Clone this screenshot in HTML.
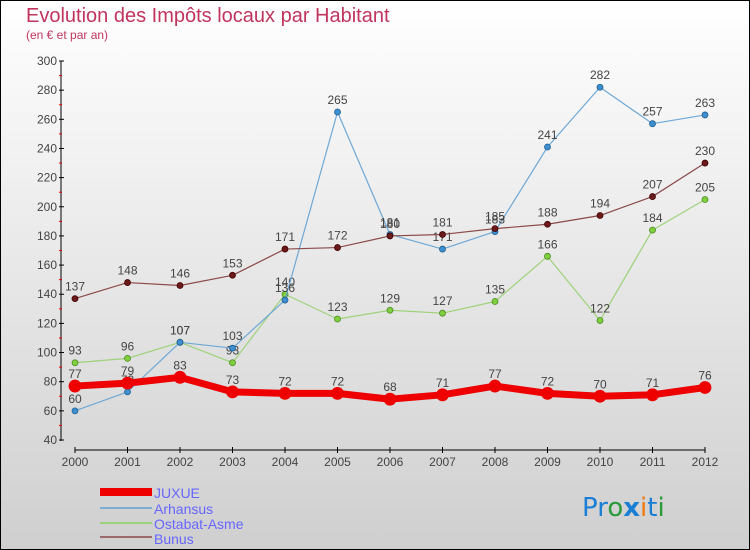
<!DOCTYPE html>
<html><head><meta charset="utf-8"><style>
body{margin:0;width:750px;height:550px;overflow:hidden;font-family:"Liberation Sans",sans-serif}
svg{display:block}
</style></head><body>
<svg id="c" width="750" height="550">
<defs><linearGradient id="bg" x1="0" y1="0" x2="0" y2="1"><stop offset="0" stop-color="#ffffff"/><stop offset="1" stop-color="#cfcfcf"/></linearGradient></defs>
<rect x="0.5" y="0.5" width="749" height="549" fill="url(#bg)" stroke="#000"/>
<text x="26" y="22" font-size="20" fill="#c0345e">Evolution des Impôts locaux par Habitant</text>
<text x="26" y="39" font-size="12" fill="#c0345e">(en € et par an)</text>
<g id="axes"></g><g id="series"></g>
<g>
<rect x="100" y="488" width="52" height="8" fill="#e00"/>
<text x="154" y="498" font-size="14" fill="#6666ff">JUXUE</text>
<rect x="100" y="507" width="52" height="2" fill="#7aaed6"/>
<text x="154" y="514" font-size="14" fill="#6666ff">Arhansus</text>
<rect x="100" y="522" width="52" height="2" fill="#9ed27a"/>
<text x="154" y="529" font-size="14" fill="#6666ff">Ostabat-Asme</text>
<rect x="100" y="536" width="52" height="2" fill="#9b6b6b"/>
<text x="154" y="544" font-size="14" fill="#6666ff">Bunus</text>
</g>
<text x="582" y="516" font-size="26" font-family="DejaVu Sans"><tspan fill="#1a7fd4">Pr</tspan><tspan fill="#2a9a3a">o</tspan><tspan fill="#1a7fd4" font-weight="bold">x</tspan><tspan fill="#f07a10">i</tspan><tspan fill="#1a7fd4">t</tspan><tspan fill="#2a9a3a">i</tspan></text>
</svg>
<script>
const years=[2000,2001,2002,2003,2004,2005,2006,2007,2008,2009,2010,2011,2012];
const yTicks=[40,60,80,100,120,140,160,180,200,220,240,260,280,300];
const juxue=[77,79,83,73,72,72,68,71,77,72,70,71,76];
const arhansus=[60,73,107,103,136,265,181,171,183,241,282,257,263];
const ostabat=[93,96,107,93,140,123,129,127,135,166,122,184,205];
const bunus=[137,148,146,153,171,172,180,181,185,188,194,207,230];
const NS="http://www.w3.org/2000/svg";
const X=i=>75+i*52.5, Y=v=>440-(v-40)*(379/260);
function mk(t,a,p){const e=document.createElementNS(NS,t);for(const k in a)e.setAttribute(k,a[k]);p.appendChild(e);return e;}
const ax=document.getElementById('axes');
let l=mk('line',{x1:61,y1:61,x2:61,y2:441,stroke:'#000'},ax);

l=mk('line',{x1:75,y1:450,x2:705,y2:450,stroke:'#000'},ax);

yTicks.forEach(v=>{mk('line',{x1:59,x2:64,y1:Y(v),y2:Y(v),stroke:'#000'},ax);
 if(v<300)mk('line',{x1:59,x2:62,y1:Y(v+10),y2:Y(v+10),stroke:'#e00'},ax);
 const t=mk('text',{x:57,y:Y(v)+4,'font-size':12,fill:'#444','text-anchor':'end'},ax);t.textContent=v;
 });
years.forEach((y,i)=>{mk('line',{x1:X(i),x2:X(i),y1:447,y2:453,stroke:'#000'},ax);
 const t=mk('text',{x:X(i),y:466,'font-size':12,fill:'#444','text-anchor':'middle'},ax);t.textContent=y;
 });
const sg=document.getElementById('series');
function series(d,name,col,w,r,fill,ms){
 const g=mk('g',{},sg);
 
 const p=mk('polyline',{points:d.map((v,i)=>X(i)+','+Y(v)).join(' '),fill:'none',stroke:col,'stroke-width':w,'stroke-linejoin':'round'},g);
 
 d.forEach((v,i)=>{const c=mk('circle',{cx:X(i),cy:Y(v),r:r,fill:fill,stroke:ms,'stroke-width':0.8},g);
  
  const t=mk('text',{x:X(i),y:Y(v)-8,'font-size':12,fill:'#444','text-anchor':'middle'},g);t.textContent=v;
  });
}
series(ostabat,'ostabat-asme','#9ed27a',1.2,3,'#7fcf3f','#4a8a20');
series(arhansus,'arhansus','#6fa8d6',1.2,3,'#3d8fd0','#1f5f90');
series(bunus,'bunus','#8b4a4a',1.2,3,'#6a1a1a','#400');
series(juxue,'juxue','#ee0000',7,6,'#ee0000','#ee0000');
</script>
</body></html>
